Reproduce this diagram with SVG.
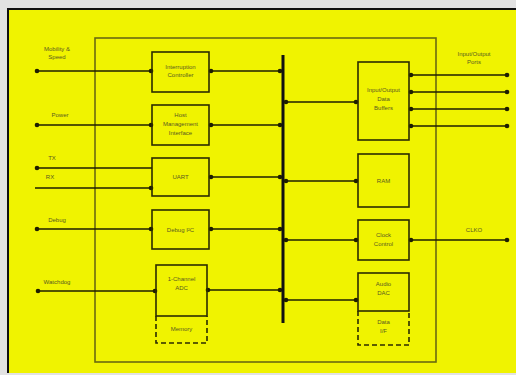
<svg xmlns="http://www.w3.org/2000/svg" width="516" height="375" viewBox="0 0 516 375">
<defs>
<style>
.box{fill:none;stroke:#2b2b00;stroke-width:1.6}
.dash{fill:none;stroke:#2b2b00;stroke-width:1.6;stroke-dasharray:5 3}
.ln{stroke:#1e1e00;stroke-width:1.5;fill:none}
.t{font-family:"Liberation Sans",Arial,sans-serif;font-size:6px;fill:#5a5a20;text-anchor:middle}
</style>
<marker id="dot" markerWidth="6" markerHeight="6" refX="3" refY="3" markerUnits="userSpaceOnUse">
<circle cx="3" cy="3" r="2.3" fill="#1e1e00"/>
</marker>
</defs>
<rect x="0" y="0" width="516" height="375" fill="#e2e2e2"/>
<rect x="8" y="9" width="510" height="364" fill="#f0f300"/>
<path d="M8,373 V9 H516" fill="none" stroke="#111" stroke-width="2"/>
<rect id="chip" x="95" y="38" width="341" height="324" fill="none" stroke="#6a6a10" stroke-width="1.6"/>

<g id="connectors">
<line class="ln" x1="37" y1="71" x2="151" y2="71" marker-start="url(#dot)" marker-end="url(#dot)"/>
<line class="ln" x1="211" y1="71" x2="280" y2="71" marker-start="url(#dot)" marker-end="url(#dot)"/>
<line class="ln" x1="37" y1="125" x2="151" y2="125" marker-start="url(#dot)" marker-end="url(#dot)"/>
<line class="ln" x1="211" y1="125" x2="280" y2="125" marker-start="url(#dot)" marker-end="url(#dot)"/>
<line class="ln" x1="37" y1="168" x2="152" y2="168" marker-start="url(#dot)"/>
<line class="ln" x1="35" y1="188" x2="151" y2="188" marker-end="url(#dot)"/>
<line class="ln" x1="211" y1="177" x2="280" y2="177" marker-start="url(#dot)" marker-end="url(#dot)"/>
<line class="ln" x1="37" y1="229" x2="151" y2="229" marker-start="url(#dot)" marker-end="url(#dot)"/>
<line class="ln" x1="211" y1="229" x2="280" y2="229" marker-start="url(#dot)" marker-end="url(#dot)"/>
<line class="ln" x1="38" y1="291" x2="155" y2="291" marker-start="url(#dot)" marker-end="url(#dot)"/>
<line class="ln" x1="208" y1="290" x2="280" y2="290" marker-start="url(#dot)" marker-end="url(#dot)"/>
<line x1="283" y1="55" x2="283" y2="323" stroke="#111" stroke-width="3"/>
<line class="ln" x1="286" y1="102" x2="356" y2="102" marker-start="url(#dot)" marker-end="url(#dot)"/>
<line class="ln" x1="286" y1="181" x2="356" y2="181" marker-start="url(#dot)" marker-end="url(#dot)"/>
<line class="ln" x1="286" y1="240" x2="356" y2="240" marker-start="url(#dot)" marker-end="url(#dot)"/>
<line class="ln" x1="286" y1="300" x2="356" y2="300" marker-start="url(#dot)" marker-end="url(#dot)"/>
<line class="ln" x1="411" y1="75" x2="507" y2="75" marker-start="url(#dot)" marker-end="url(#dot)"/>
<line class="ln" x1="411" y1="92" x2="507" y2="92" marker-start="url(#dot)" marker-end="url(#dot)"/>
<line class="ln" x1="411" y1="109" x2="507" y2="109" marker-start="url(#dot)" marker-end="url(#dot)"/>
<line class="ln" x1="411" y1="126" x2="507" y2="126" marker-start="url(#dot)" marker-end="url(#dot)"/>
<line class="ln" x1="411" y1="240" x2="507" y2="240" marker-start="url(#dot)" marker-end="url(#dot)"/>
</g>

<g id="labels">
<text class="t" x="57" y="51">Mobility &amp;</text>
<text class="t" x="57" y="59">Speed</text>
<text class="t" x="60" y="117">Power</text>
<text class="t" x="52" y="160">TX</text>
<text class="t" x="50" y="179">RX</text>
<text class="t" x="57" y="222">Debug</text>
<text class="t" x="57" y="284">Watchdog</text>
<text class="t" x="474" y="56">Input/Output</text>
<text class="t" x="474" y="64">Ports</text>
<text class="t" x="474" y="232">CLKO</text>
</g>

<g id="intc"><rect class="box" x="152" y="52" width="57" height="40"/>
<text class="t" x="180.5" y="69">Interruption</text><text class="t" x="180.5" y="77">Controller</text></g>
<g id="host"><rect class="box" x="152" y="105" width="57" height="40"/>
<text class="t" x="180.5" y="117">Host</text><text class="t" x="180.5" y="126">Management</text><text class="t" x="180.5" y="135">Interface</text></g>
<g id="uart"><rect class="box" x="152" y="158" width="57" height="38"/>
<text class="t" x="180.5" y="179">UART</text></g>
<g id="debug"><rect class="box" x="152" y="210" width="57" height="39"/>
<text class="t" x="180.5" y="232">Debug I²C</text></g>
<g id="adc"><rect class="box" x="156" y="265" width="51" height="51"/>
<text class="t" x="181.5" y="281">1-Channel</text><text class="t" x="181.5" y="290">ADC</text>
<path class="dash" d="M156,316 V343 H207 V316"/>
<text class="t" x="181.5" y="331">Memory</text></g>

<g id="iobuf"><rect class="box" x="358" y="62" width="51" height="78"/>
<text class="t" x="383.5" y="92">Input/Output</text><text class="t" x="383.5" y="101">Data</text><text class="t" x="383.5" y="110">Buffers</text></g>
<g id="ram"><rect class="box" x="358" y="154" width="51" height="53"/>
<text class="t" x="383.5" y="183">RAM</text></g>
<g id="clk"><rect class="box" x="358" y="220" width="51" height="40"/>
<text class="t" x="383.5" y="237">Clock</text><text class="t" x="383.5" y="246">Control</text></g>
<g id="dac"><rect class="box" x="358" y="273" width="51" height="38"/>
<text class="t" x="383.5" y="286">Audio</text><text class="t" x="383.5" y="295">DAC</text>
<path class="dash" d="M358,311 V345 H409 V311"/>
<text class="t" x="383.5" y="324">Data</text><text class="t" x="383.5" y="333">I/F</text></g>
</svg>
